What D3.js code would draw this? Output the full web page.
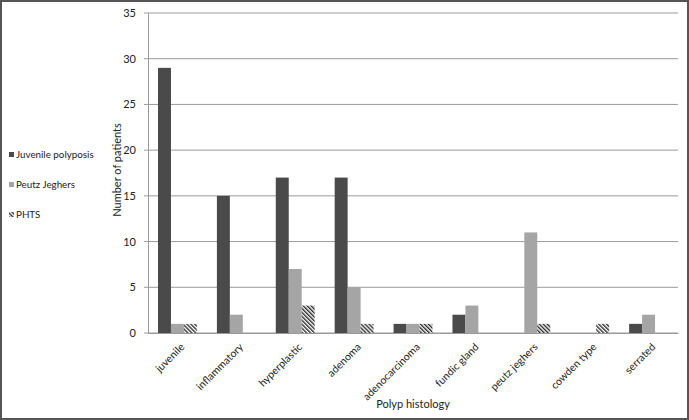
<!DOCTYPE html>
<html>
<head>
<meta charset="utf-8">
<script src="https://cdn.jsdelivr.net/npm/d3@7"></script>
<style>
  body { margin: 0; background: #fff; }
  svg { display: block; font-family: Lato, "Liberation Sans", sans-serif; }
  .label { fill: #222; }
</style>
</head>
<body>
<svg width="689" height="420"></svg>
<script>
const categories = ["juvenile", "inflammatory", "hyperplastic", "adenoma", "adenocarcinoma",
    "fundic gland", "peutz jeghers", "cowden type", "serrated"];
const seriesNames = ["Juvenile polyposis", "Peutz Jeghers", "PHTS"];
const juvenilePolyposis = [29, 15, 17, 17, 1, 2, 0, 0, 1];
const peutzJeghers = [1, 2, 7, 5, 1, 3, 11, 0, 2];
const phts = [1, 0, 3, 1, 1, 0, 1, 1, 0];
const yTicks = [0, 5, 10, 15, 20, 25, 30, 35];

const svg = d3.select("svg"),
    width = 689,
    height = 420;

const margin = {top: 13, right: 11, bottom: 87, left: 148};
const innerW = width - margin.left - margin.right,
    innerH = height - margin.top - margin.bottom;

const fills = ["#4a4a4a", "#a5a5a5", "url(#hatch)"];

// hatch pattern for PHTS (lines running top-left to bottom-right)
const defs = svg.append("defs");
const pat = defs.append("pattern")
    .attr("id", "hatch")
    .attr("patternUnits", "userSpaceOnUse")
    .attr("width", 2.8)
    .attr("height", 2.8)
    .attr("patternTransform", "rotate(-45)");
pat.append("rect").attr("width", 2.8).attr("height", 2.8).attr("fill", "#fff");
pat.append("rect").attr("width", 1.4).attr("height", 2.8).attr("fill", "#2e2e2e");

// outer frame
svg.append("rect")
    .attr("x", 1).attr("y", 1)
    .attr("width", width - 2).attr("height", height - 2)
    .attr("fill", "none")
    .attr("stroke", "#555")
    .attr("stroke-width", 2);

const g = svg.append("g").attr("transform", "translate(" + margin.left + "," + margin.top + ")");

const x = d3.scaleBand().domain(categories).range([0, innerW]).paddingInner(0.34).paddingOuter(0.17);
const xs = d3.scaleBand().domain(seriesNames).range([0, x.bandwidth()]);
const y = d3.scaleLinear().domain([0, 35]).range([innerH, 0]);

// gridlines
g.append("g")
    .selectAll("line")
    .data(yTicks)
    .enter().append("line")
    .attr("x1", -4)
    .attr("x2", innerW)
    .attr("y1", d => y(d))
    .attr("y2", d => y(d))
    .attr("stroke", "#9a9a9a")
    .attr("stroke-width", 1);

// y axis
const yAxis = g.append("g")
    .call(d3.axisLeft(y).tickValues(yTicks).tickSize(0).tickPadding(12));
yAxis.select(".domain").attr("stroke", "#9a9a9a");
yAxis.selectAll("text").attr("font-size", 11).attr("fill", "#222")
    .attr("font-family", "Lato, sans-serif");

// bars
const seriesData = [juvenilePolyposis, peutzJeghers, phts];
seriesData.forEach(function(vals, si) {
    g.append("g")
        .selectAll("rect")
        .data(vals)
        .enter().append("rect")
        .attr("x", (d, i) => x(categories[i]) + xs(seriesNames[si]))
        .attr("y", d => y(d))
        .attr("width", xs.bandwidth())
        .attr("height", d => innerH - y(d))
        .attr("fill", fills[si]);
});

// x axis
const xAxis = g.append("g")
    .attr("transform", "translate(0," + innerH + ")")
    .call(d3.axisBottom(x).tickSize(0).tickPadding(0));
xAxis.select(".domain").attr("stroke", "#9a9a9a");
xAxis.selectAll("text")
    .attr("font-size", 10.5)
    .attr("fill", "#222")
    .attr("font-family", "Lato, sans-serif")
    .attr("text-anchor", "end")
    .attr("dy", "0.35em")
    .attr("transform", "translate(5,12) rotate(-45)");

// axis titles
svg.append("text")
    .attr("class", "label")
    .attr("transform", "translate(121,170) rotate(-90)")
    .attr("text-anchor", "middle")
    .attr("font-size", 11)
    .text("Number of patients");

svg.append("text")
    .attr("class", "label")
    .attr("x", margin.left + innerW / 2)
    .attr("y", 408)
    .attr("text-anchor", "middle")
    .attr("font-size", 11)
    .text("Polyp histology");

// legend
const legend = svg.append("g")
    .selectAll("g")
    .data(seriesNames)
    .enter().append("g")
    .attr("transform", (d, i) => "translate(9," + (158 + i * 30) + ")");
legend.append("rect")
    .attr("x", 0).attr("y", -6)
    .attr("width", 5).attr("height", 5)
    .attr("fill", (d, i) => fills[i]);
legend.append("text")
    .attr("class", "label")
    .attr("x", 7)
    .attr("y", 0)
    .attr("font-size", 9.8)
    .text(d => d);
</script>
</body>
</html>
